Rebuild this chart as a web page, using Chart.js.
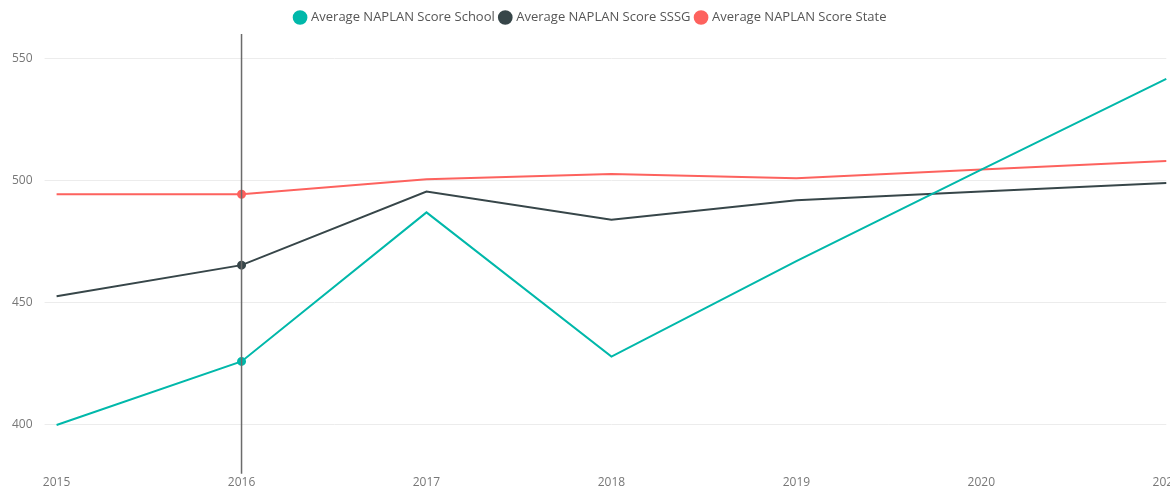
<!DOCTYPE html>
<html lang="en">
<head>
  <meta charset="UTF-8">
  <title>Average NAPLAN Score</title>
  <script src="https://cdn.jsdelivr.net/npm/chart.js"></script>
  <style>
    html, body {
      margin: 0;
      padding: 0;
      overflow: hidden;
      background: #fff;
    }
    #chart-container {
      width: 1182px;
      height: 493px;
    }
  </style>
</head>
<body>
  <div id="chart-container">
    <canvas id="naplanChart"></canvas>
  </div>

  <script>
    // Dados
    const years = ["2015", "2016", "2017", "2018", "2019", "2020", "2021"];
    const schoolScores = [400, 426, 487, 428, 467, 504.5, 541.6];
    const sssgScores = [452.7, 465.4, 495.5, 484, 492, 495.5, 499];
    const stateScores = [494.4, 494.4, 500.6, 502.7, 501, 504.5, 508];
    const yTicks = [400, 450, 500, 550];
    const hoverIndex = 1; // ano destacado (linha vertical)

    const fontFamily = "'Segoe UI', 'Open Sans', 'Noto Sans', sans-serif";

    // Linha vertical no ano destacado
    const crosshair = {
      id: "crosshair",
      afterDatasetsDraw(chart) {
        const { ctx, chartArea, scales } = chart;
        const x = scales.x.getPixelForValue(hoverIndex);
        ctx.save();
        ctx.strokeStyle = "#6b6b6b";
        ctx.lineWidth = 1.5;
        ctx.beginPath();
        ctx.moveTo(x, chartArea.top);
        ctx.lineTo(x, chartArea.bottom);
        ctx.stroke();
        ctx.restore();
      }
    };

    const pointAt = (ctx) => (ctx.dataIndex === hoverIndex ? 3.5 : 0);

    const makeSet = (label, data, color) => ({
      label: label,
      data: data,
      borderColor: color,
      backgroundColor: color,
      borderWidth: 2,
      pointRadius: pointAt,
      pointHoverRadius: 0,
      pointStyle: "circle",
      tension: 0
    });

    const ctx = document.getElementById("naplanChart").getContext("2d");
    new Chart(ctx, {
      type: "line",
      data: {
        labels: years,
        datasets: [
          makeSet("Average NAPLAN Score School", schoolScores, "#01B8AA"),
          makeSet("Average NAPLAN Score SSSG", sssgScores, "#374649"),
          makeSet("Average NAPLAN Score State", stateScores, "#FD625E")
        ]
      },
      options: {
        responsive: true,
        maintainAspectRatio: false,
        animation: false,
        events: [],
        layout: { padding: { left: 0, top: 5, right: 0, bottom: 0 } },
        plugins: {
          tooltip: { enabled: false },
          legend: {
            position: "top",
            labels: {
              usePointStyle: true,
              pointStyle: "circle",
              boxWidth: 9,
              boxHeight: 9,
              padding: 6,
              color: "#555",
              font: { family: fontFamily, size: 13 }
            }
          }
        },
        scales: {
          x: {
            offset: false,
            grid: { display: false, drawTicks: false },
            border: { display: false },
            ticks: {
              color: "#777",
              padding: 2,
              maxRotation: 0,
              autoSkip: false,
              font: { family: fontFamily, size: 12 }
            }
          },
          y: {
            min: 380,
            max: 560,
            afterBuildTicks: (scale) => {
              scale.ticks = yTicks.map(v => ({ value: v }));
            },
            grid: {
              color: "#ececec",
              lineWidth: 1,
              drawTicks: true,
              tickLength: 12
            },
            border: { display: false },
            ticks: {
              color: "#777",
              padding: 12,
              font: { family: fontFamily, size: 12 }
            }
          }
        }
      },
      plugins: [crosshair]
    });
  </script>
</body>
</html>
